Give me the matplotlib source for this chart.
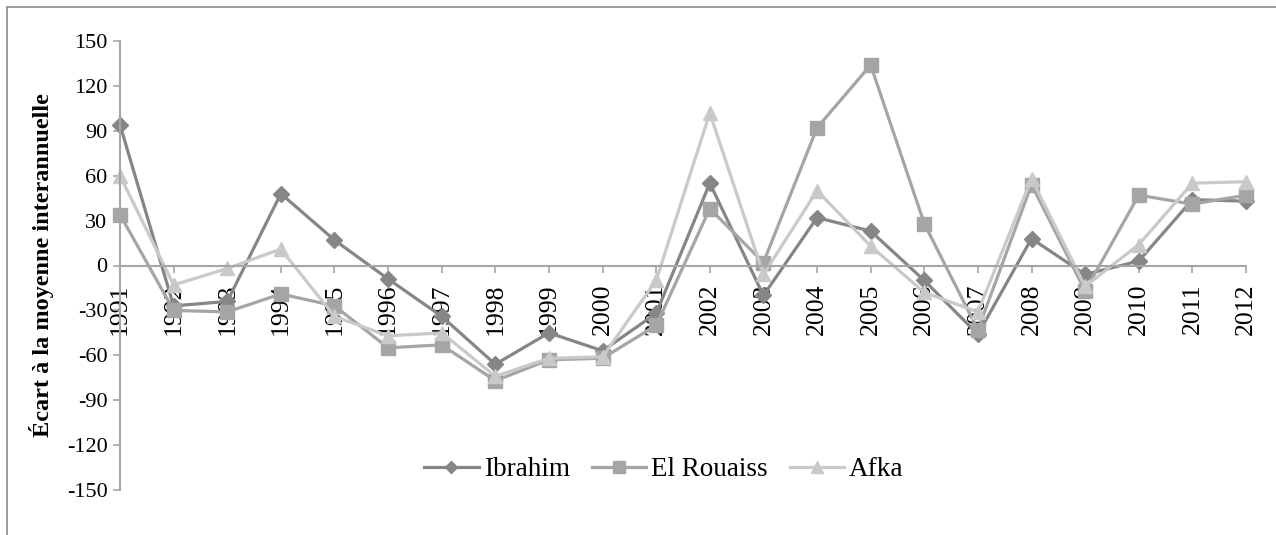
import matplotlib

matplotlib.use("Agg")
import matplotlib.pyplot as plt
from matplotlib.lines import Line2D

years = list(range(1991, 2013))

ibrahim = [94, -27, -24, 48, 17, -9, -34, -66, -45, -57, -32,
           55, -20, 32, 23, -10, -46, 18, -6, 3, 44, 43]
el_rouaiss = [34, -30, -31, -19, -27, -55, -53, -77, -63, -62, -40,
              38, 2, 92, 134, 28, -43, 54, -17, 47, 41, 47]
afka = [60, -13, -2, 11, -34, -47, -45, -74, -62, -61, -10,
        102, -6, 50, 13, -18, -31, 58, -14, 14, 55, 56]

series_names = ["Ibrahim", "El Rouaiss", "Afka"]
y_ticks = list(range(-150, 151, 30))

COLORS = ["#868686", "#a5a5a5", "#c9c9c9"]
MARKERS = ["D", "s", "^"]
MSIZES = [8, 10, 10]
AXIS_GREY = "#a6a6a6"

plt.rcParams["font.family"] = ["Liberation Serif", "DejaVu Serif"]

fig = plt.figure(figsize=(12.76, 5.35), dpi=100)
ax = fig.add_axes([120 / 1276, 45 / 535, 1126 / 1276, 449 / 535])

for vals, name, c, m, ms in zip([ibrahim, el_rouaiss, afka], series_names,
                                COLORS, MARKERS, MSIZES):
    ax.plot(years, vals, color=c, marker=m, markersize=ms, linewidth=2.3,
            markeredgecolor=c, label=name, clip_on=False)

# spine position must be set before tick styling (it resets the ticks)
for side in ["top", "right"]:
    ax.spines[side].set_visible(False)
ax.spines["bottom"].set_position(("data", 0))
ax.spines["bottom"].set_color(AXIS_GREY)
ax.spines["left"].set_color(AXIS_GREY)
ax.spines["bottom"].set_linewidth(1.5)
ax.spines["left"].set_linewidth(1.5)

ax.set_xlim(years[0], years[-1])
ax.set_ylim(-150, 150)
ax.set_yticks(y_ticks)
ax.set_yticklabels([str(v) for v in y_ticks], fontsize=16)
ax.set_xticks(years)
ax.set_xticklabels([str(y) for y in years], rotation=90, fontsize=18.5)

ax.tick_params(axis="both", direction="out", length=5, width=1.2,
               color=AXIS_GREY, labelcolor="black")
ax.tick_params(axis="x", pad=8)
ax.tick_params(axis="y", pad=4)

ax.set_ylabel("Écart à la moyenne interannuelle", fontsize=17.5,
              fontweight="bold", labelpad=9)

ax.legend(loc="center", bbox_to_anchor=(664 / 1276, 1 - 470 / 535),
          bbox_transform=fig.transFigure, ncol=3, frameon=False,
          fontsize=19.5, handlelength=2.0, columnspacing=0.8,
          handletextpad=0.2, markerscale=0.8)

# chart-area frame (only top and left edges fall inside the image)
fig.add_artist(Line2D([7 / 1276, 7 / 1276], [0, 1 - 7 / 535],
                      transform=fig.transFigure, color="#8c8c8c", lw=1.2))
fig.add_artist(Line2D([7 / 1276, 1], [1 - 7 / 535, 1 - 7 / 535],
                      transform=fig.transFigure, color="#8c8c8c", lw=1.2))

fig.savefig("out.png", dpi=100, facecolor="white")
